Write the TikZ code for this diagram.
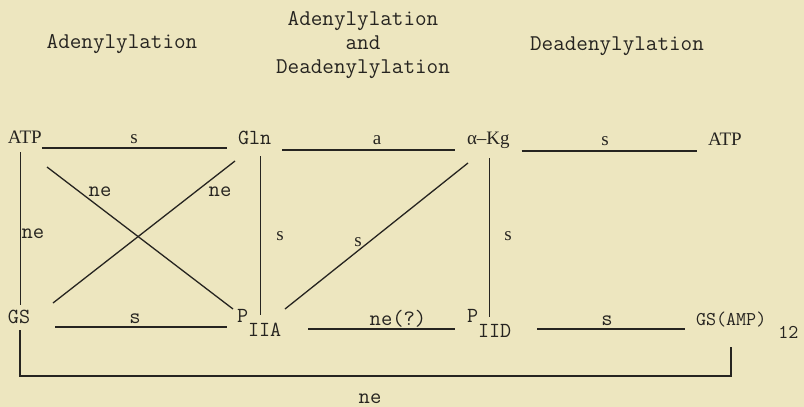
\documentclass[tikz,border=0pt]{standalone}
\usepackage{fontspec}
\setmainfont{Liberation Serif}
\definecolor{paper}{RGB}{237,230,191}
\definecolor{ink}{RGB}{38,36,32}
\begin{document}
\begin{tikzpicture}[x=1pt,y=-1pt,
  every node/.style={inner sep=0pt, outer sep=0pt, text=ink},
  hdr/.style={font=\fontsize{22.5}{24}\selectfont\ttfamily},
  mol/.style={font=\fontsize{19}{20}\selectfont},
  tmol/.style={font=\fontsize{21.5}{22}\selectfont\ttfamily},
  lab/.style={font=\fontsize{19}{20}\selectfont, anchor=base},
  tlab/.style={font=\fontsize{22}{22}\selectfont\ttfamily, anchor=base},
  link/.style={draw=ink, line width=1.3pt},
  thinlink/.style={draw=ink, line width=0.8pt}]
\fill[paper] (0,0) rectangle (804,407);
\useasboundingbox (0,0) rectangle (804,407);

% headers
\node[hdr, anchor=base] (h1) at (122,48) {Adenylylation};
\node[hdr, align=center, anchor=center] (h2) at (363,45) {Adenylylation\\and\\Deadenylylation};
\node[hdr, anchor=base] (h3) at (617,50) {Deadenylylation};

% species
\node[mol, anchor=base west] (atpL) at (8,143) {ATP};
\node[tmol, anchor=base west] (gln) at (238,144) {Gln};
\node[mol, anchor=base west] (akg) at (467,144) {α–Kg};
\node[mol, anchor=base west] (atpR) at (708,145) {ATP};
\node[tmol, anchor=base west] (gs) at (8,323) {GS};
\node[tmol, anchor=base west] (piia) at (237,322) {P\raisebox{-14pt}{IIA}};
\node[tmol, anchor=base west] (piid) at (467,322) {P\raisebox{-15pt}{IID}};
\node[font=\fontsize{19.5}{20}\selectfont\ttfamily, anchor=base west] (gsamp) at (696,325) {GS(AMP)\hspace{12pt}\raisebox{-13pt}{12}};

% top horizontal connectors
\draw[link] ([shift={(0,5)}]atpL.base east) -- ([shift={(-11,4)}]gln.base west);
\draw[link] ([shift={(11,6)}]gln.base east) -- ([shift={(-12,6)}]akg.base west);
\draw[link] ([shift={(12,7)}]akg.base east) -- ([shift={(-11,6)}]atpR.base west);

% bottom horizontal connectors
\draw[link] ([shift={(47,4)}]gs.base west) -- ([shift={(-10,5)}]piia.base west);
\draw[link] ([shift={(71,7)}]piia.base west) -- ([shift={(-12,7)}]piid.base west);
\draw[link] ([shift={(70,7)}]piid.base west) -- ([shift={(-11,4)}]gsamp.base west);

% verticals
\draw[thinlink] ([shift={(12,9)}]atpL.base west) -- ([shift={(12,-18)}]gs.base west);
\draw[thinlink] ([shift={(22,12)}]gln.base west) -- ([shift={(23,-7)}]piia.base west);
\draw[thinlink] ([shift={(22,14)}]akg.base west) -- ([shift={(22,-5)}]piid.base west);

% diagonals
\draw[link] ([shift={(39,24)}]atpL.base west) -- ([shift={(-4,-13)}]piia.base west);
\draw[link] ([shift={(45,-20)}]gs.base west) -- ([shift={(-3,17)}]gln.base west);
\draw[link] ([shift={(48,-13)}]piia.base west) -- ([shift={(1,19)}]akg.base west);

% bottom loop
\draw[link] ([shift={(12,7)}]gs.base west) -- ++(0,46) -| ([shift={(35,22)}]gsamp.base west);

% labels
\node[lab] (l1) at (134,143) {s};
\node[lab] (l2) at (377,144) {a};
\node[lab] (l3) at (605,145) {s};
\node[tlab] (l4) at (100,196) {ne};
\node[tlab] (l5) at (220,196) {ne};
\node[tlab] (l6) at (33,238) {ne};
\node[lab] (l7) at (280,240) {s};
\node[lab] (l8) at (358,246) {s};
\node[lab] (l9) at (508,240) {s};
\node[tlab] (l10) at (135,323) {s};
\node[tlab] (l11) at (398,325) {ne(?)};
\node[tlab] (l12) at (607,325) {s};
\node[tlab] (l13) at (370,403) {ne};
\end{tikzpicture}
\end{document}
